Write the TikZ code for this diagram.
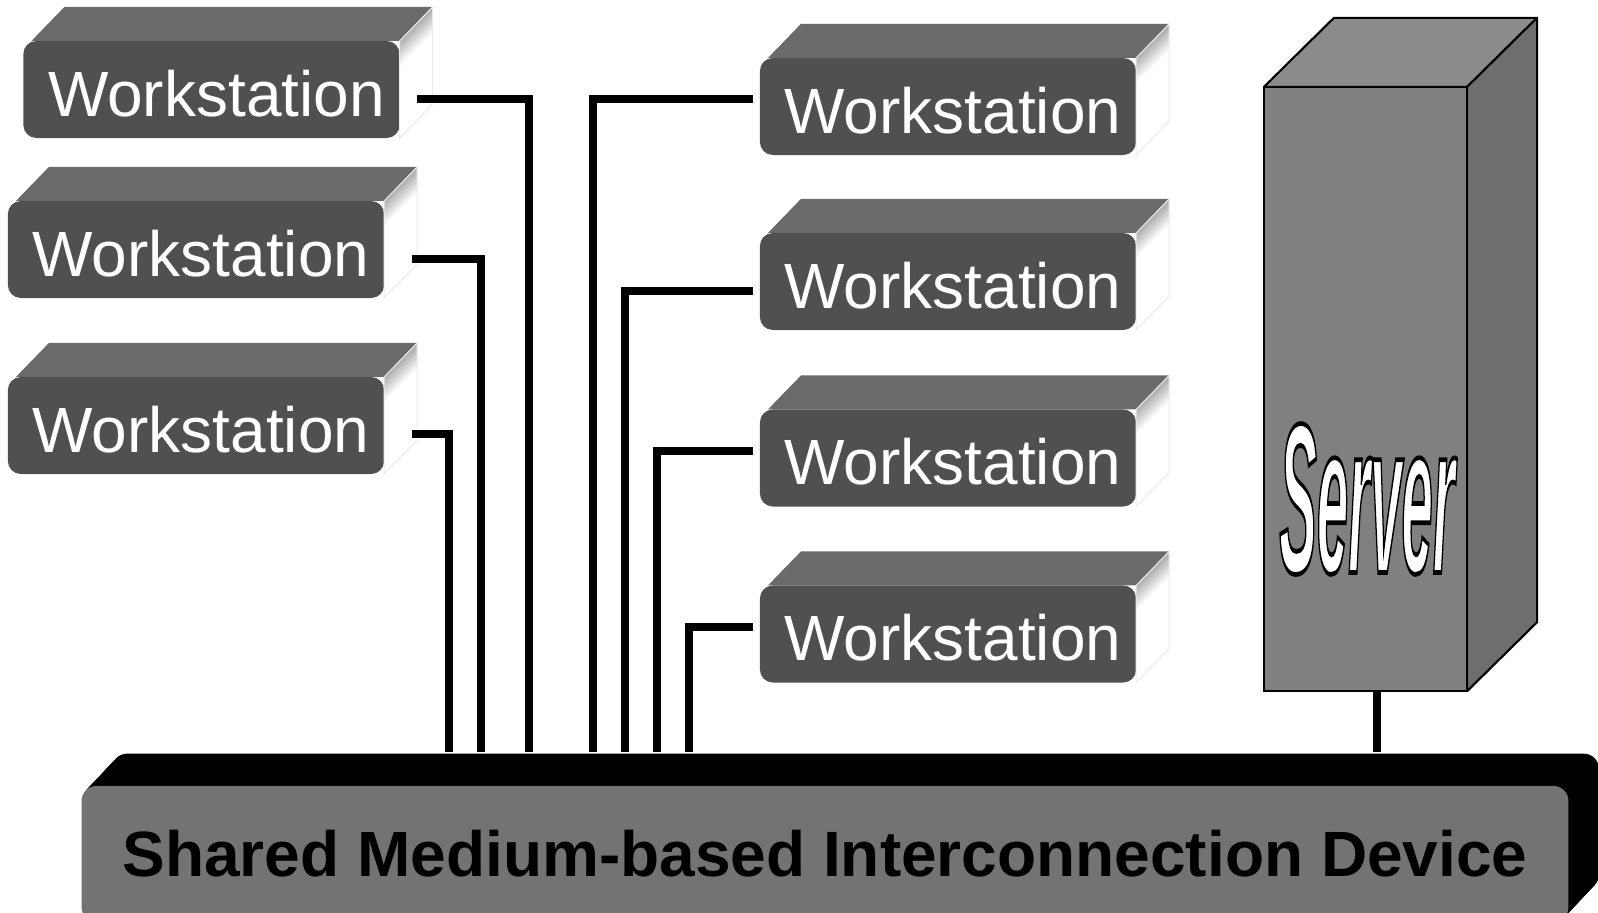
\documentclass[tikz,border=0pt]{standalone}
\usepackage{fontspec}
\setmainfont{Liberation Sans}
\usepackage{graphicx}
\usetikzlibrary{calc}
\usetikzlibrary{backgrounds}
\definecolor{wsfront}{HTML}{505050}
\definecolor{wstop}{HTML}{6A6A6A}
\definecolor{srvfront}{HTML}{808080}
\definecolor{srvtop}{HTML}{8B8B8B}
\definecolor{srvside}{HTML}{6E6E6E}
\definecolor{busfront}{HTML}{737373}
\pgfdeclareverticalshading{wsbevel}{100bp}{color(0bp)=(white); color(60bp)=(white); color(80bp)=(wstop); color(100bp)=(wstop)}
% white letters with a black rim
\newcommand{\rimtext}[1]{{\special{pdf:literal direct 0 G 2 Tr 0.4 w}#1\special{pdf:literal direct 0 Tr}}}
\tikzstyle{wsbox} = [rectangle, rounded corners=0.13cm, fill=wsfront, text=white,
    minimum width=3.76cm, minimum height=0.97cm, inner sep=0pt, outer sep=0pt,
    text height=16.4pt, text depth=1.1pt, font=\fontsize{18.2pt}{20pt}\selectfont,
    execute at begin node=\hspace{0.1cm}]
\tikzstyle{srvbox} = [rectangle, fill=srvfront, draw=black, line width=0.6pt,
    minimum width=2.03cm, minimum height=6.04cm, outer sep=0pt]
\tikzstyle{srvlabel} = [text=white, inner sep=0pt, font=\bfseries\itshape\fontsize{18pt}{20pt}\selectfont]
\tikzstyle{busbox} = [rectangle, rounded corners=0.15cm, fill=busfront, text=black,
    minimum width=14.86cm, minimum height=1.36cm, inner sep=0pt, outer sep=0pt,
    font=\bfseries\fontsize{18.2pt}{20pt}\selectfont]
\tikzstyle{wire} = [draw=black, line width=0.075cm]
\newcommand{\wsfaces}[1]{%
    \fill[wstop] ([xshift=0.08cm]#1.north west) -- ++(33,-34) -- ($(#1.north east)+(33,-34)$) -- (#1.north east) -- cycle;
    \shade[shading=wsbevel, shading angle=45, draw=black!8, line width=0.3pt] (#1.north east) -- ++(33,-34) -- ($(#1.south east)+(33,-34)$) -- (#1.south east) -- cycle;
}

\begin{document}
\begin{tikzpicture}[x=0.01cm, y=-0.01cm]
    \useasboundingbox (0,0) rectangle (1598,912);

    % workstations, left column
    \node[wsbox] (wl1) at (211.5,89.5) {Workstation};
    \node[wsbox] (wl2) at (196,249.5) {Workstation};
    \node[wsbox] (wl3) at (196,425.5) {Workstation};
    % workstations, right column
    \node[wsbox] (wr1) at (948,106.5) {Workstation};
    \node[wsbox] (wr2) at (948,281.5) {Workstation};
    \node[wsbox] (wr3) at (948,458) {Workstation};
    \node[wsbox] (wr4) at (948,634) {Workstation};
    \wsfaces{wl1} \wsfaces{wl2} \wsfaces{wl3}
    \wsfaces{wr1} \wsfaces{wr2} \wsfaces{wr3} \wsfaces{wr4}

    % server tower
    \node[srvbox] (srv) at (1365.5,389) {};
    \draw[fill=srvtop, line width=0.6pt, line join=round] (srv.north west) -- ++(70,-69) -- ($(srv.north east)+(70,-69)$) -- (srv.north east) -- cycle;
    \draw[fill=srvside, line width=0.6pt, line join=round] (srv.north east) -- ++(70,-69) -- ($(srv.south east)+(70,-69)$) -- (srv.south east) -- cycle;
    \node[srvlabel] (srvname) at (1367,499) {\scalebox{0.89}[3.37]{\rimtext{Server}}};

    % interconnection device
    \node[busbox] (bus) at (825,854) {Shared Medium-based Interconnection Device};
    \begin{scope}[on background layer]
        \foreach \t in {0.05,0.1,...,1}
            \fill[black, rounded corners=0.15cm] ($(bus.north west)+(32*\t,-34*\t)$) rectangle ($(bus.south east)+(32*\t,-34*\t)$);
    \end{scope}

    % taps on the device
    \coordinate (tap1) at (449,752);
    \coordinate (tap2) at (481,752);
    \coordinate (tap3) at (529,752);
    \coordinate (tap4) at (593,752);
    \coordinate (tap5) at (625,752);
    \coordinate (tap6) at (657,752);
    \coordinate (tap7) at (689,752);
    \coordinate (tap8) at (1377,752);

    % wiring
    \draw[wire] ([xshift=0.17cm, yshift=-0.095cm]wl1.east) -| (tap3);
    \draw[wire] ([xshift=0.28cm, yshift=-0.095cm]wl2.east) -| (tap2);
    \draw[wire] ([xshift=0.28cm, yshift=-0.085cm]wl3.east) -| (tap1);
    \draw[wire] ([xshift=-0.07cm, yshift=0.075cm]wr1.west) -| (tap4);
    \draw[wire] ([xshift=-0.07cm, yshift=-0.095cm]wr2.west) -| (tap5);
    \draw[wire] ([xshift=-0.07cm, yshift=0.07cm]wr3.west) -| (tap6);
    \draw[wire] ([xshift=-0.07cm, yshift=0.07cm]wr4.west) -| (tap7);
    \draw[wire] (srv.south -| tap8) -- (tap8);
\end{tikzpicture}
\end{document}
